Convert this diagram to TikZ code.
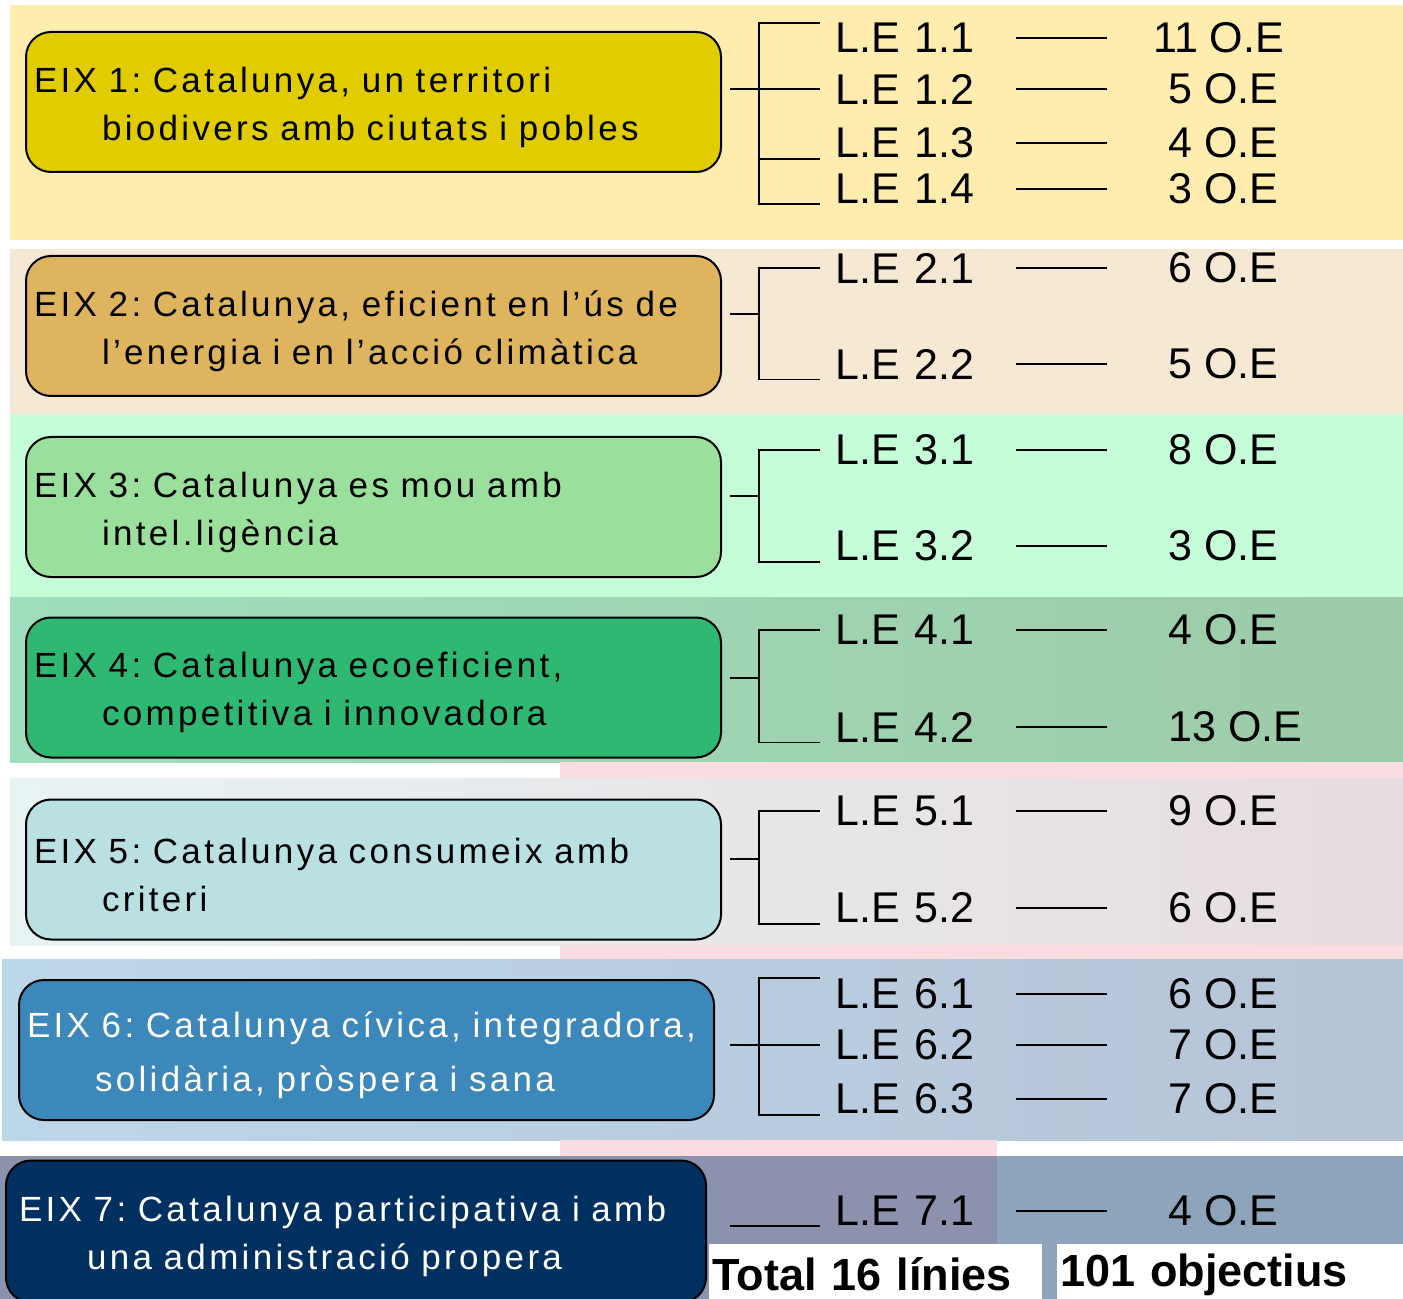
\documentclass[tikz,border=0pt]{standalone}
\usepackage{fontspec}
\setmainfont{Liberation Sans}
\newfontfamily\eixfont[LetterSpace=9.5]{Liberation Sans}
\usepackage{xcolor}
\usepackage{tikz}
\definecolor{bandone}{HTML}{FFECAF}
\definecolor{bandtwo}{HTML}{F5E9D4}
\definecolor{bandthree}{HTML}{C6FDD9}
\definecolor{bandfourL}{HTML}{9FDFBE}
\definecolor{bandfourR}{HTML}{9DCAA8}
\definecolor{bandfiveL}{HTML}{E8F3F4}
\definecolor{bandfiveR}{HTML}{E7DCE0}
\definecolor{bandsixL}{HTML}{BCD7E9}
\definecolor{bandsixR}{HTML}{B7C3D7}
\definecolor{bandsevenL}{HTML}{8C92AE}
\definecolor{bandsevenR}{HTML}{8EA4BB}
\definecolor{fillone}{HTML}{E1CC00}
\definecolor{filltwo}{HTML}{DEB55E}
\definecolor{fillthree}{HTML}{9AE09C}
\definecolor{fillfour}{HTML}{2EB872}
\definecolor{fillfive}{HTML}{BAE0E2}
\definecolor{fillsix}{HTML}{3C88BA}
\definecolor{fillseven}{HTML}{003060}
\definecolor{pinkgap}{HTML}{F9DDE0}
\frenchspacing
\tikzset{
    every node/.style={font=\fontsize{21.5}{26}\selectfont},
    eixbox/.style={draw, rounded corners=12.5pt, line width=1pt, anchor=west,
        text width=339.5pt, inner xsep=4pt, minimum height=70pt, align=left,
        execute at begin node={\rule{0pt}{18pt}},
        font=\eixfont\fontsize{17.5}{24}\selectfont},
    lebox/.style={anchor=west, inner xsep=7.5pt, inner ysep=0pt, text width=82.5pt, align=left},
    oebox/.style={anchor=west, inner sep=0pt},
    totalbox/.style={fill=white, anchor=north west, inner xsep=1.5pt, minimum height=30pt,
        align=left, font=\bfseries\fontsize{22.5}{27}\selectfont},
    branch/.style={line width=0.9pt}
}

\begin{document}
\begin{tikzpicture}[x=0.5pt, y=-0.5pt]
    \useasboundingbox (0,0) rectangle (1403,1299);

    % bands
    \fill[bandone] (10,5) rectangle (1403,240);
    \fill[bandtwo] (10,249) rectangle (1403,414);
    \fill[bandthree] (10,414) rectangle (1403,597);
    \shade[left color=bandfourL, right color=bandfourR] (10,597) rectangle (1403,762);
    \fill[pinkgap] (560,762) rectangle (1403,778);
    \shade[left color=bandfiveL, right color=bandfiveR] (10,778) rectangle (1403,945);
    \fill[pinkgap] (560,945) rectangle (1403,959);
    \shade[left color=bandsixL, right color=bandsixR] (2,959) rectangle (1403,1140);
    \fill[pinkgap] (560,1140) rectangle (997,1156);
    \fill[bandsevenL] (0,1156) rectangle (997,1299);
    \fill[bandsevenR] (997,1156) rectangle (1403,1299);

    % eixos
    \node[eixbox, fill=fillone] (eix1) at (25,102) {EIX 1: Catalunya, un territori\\\hspace*{34pt}biodivers amb ciutats i pobles};
    \node[eixbox, fill=filltwo] (eix2) at (25,326) {EIX 2: Catalunya, eficient en l’ús de\\\hspace*{34pt}l’energia i en l’acció climàtica};
    \node[eixbox, fill=fillthree] (eix3) at (25,507) {EIX 3: Catalunya es mou amb\\\hspace*{34pt}intel.ligència};
    \node[eixbox, fill=fillfour] (eix4) at (25,687.5) {EIX 4: Catalunya ecoeficient,\\\hspace*{34pt}competitiva i innovadora};
    \node[eixbox, fill=fillfive] (eix5) at (25,869.5) {EIX 5: Catalunya consumeix amb\\\hspace*{34pt}criteri};
    \node[eixbox, fill=fillsix, text=white, font=\eixfont\fontsize{17.5}{27}\selectfont] (eix6) at (18,1050) {EIX 6: Catalunya cívica, integradora,\\\hspace*{34pt}solidària, pròspera i sana};
    \node[eixbox, fill=fillseven, text=white, inner xsep=6.5pt, text width=337pt, minimum height=71pt] (eix7) at (5,1231.5) {EIX 7: Catalunya participativa i amb\\\hspace*{34pt}una administració propera};

    % linies estrategiques
    \node[lebox] (le11) at (820,38) {L.E 1.1};
    \node[lebox] (le12) at (820,89) {L.E 1.2};
    \node[lebox] (le13) at (820,143) {L.E 1.3};
    \node[lebox] (le14) at (820,189) {L.E 1.4};
    \node[lebox] (le21) at (820,268) {L.E 2.1};
    \node[lebox] (le22) at (820,364) {L.E 2.2};
    \node[lebox] (le31) at (820,450) {L.E 3.1};
    \node[lebox] (le32) at (820,546) {L.E 3.2};
    \node[lebox] (le41) at (820,630) {L.E 4.1};
    \node[lebox] (le42) at (820,727) {L.E 4.2};
    \node[lebox] (le51) at (820,811) {L.E 5.1};
    \node[lebox] (le52) at (820,908) {L.E 5.2};
    \node[lebox] (le61) at (820,994) {L.E 6.1};
    \node[lebox] (le62) at (820,1045) {L.E 6.2};
    \node[lebox] (le63) at (820,1099) {L.E 6.3};
    \node[lebox] (le71) at (820,1211) {L.E 7.1};

    % objectius
    \node[oebox] (oe11) at (1153,38) {11 O.E};
    \node[oebox] (oe12) at (1168,89) {5 O.E};
    \node[oebox] (oe13) at (1168,143) {4 O.E};
    \node[oebox] (oe14) at (1168,189) {3 O.E};
    \node[oebox] (oe21) at (1168,268) {6 O.E};
    \node[oebox] (oe22) at (1168,364) {5 O.E};
    \node[oebox] (oe31) at (1168,450) {8 O.E};
    \node[oebox] (oe32) at (1168,546) {3 O.E};
    \node[oebox] (oe41) at (1168,630) {4 O.E};
    \node[oebox] (oe42) at (1168,727) {13 O.E};
    \node[oebox] (oe51) at (1168,811) {9 O.E};
    \node[oebox] (oe52) at (1168,908) {6 O.E};
    \node[oebox] (oe61) at (1168,994) {6 O.E};
    \node[oebox] (oe62) at (1168,1045) {7 O.E};
    \node[oebox] (oe63) at (1168,1099) {7 O.E};
    \node[oebox] (oe71) at (1168,1211) {4 O.E};

    % totals
    \node[totalbox, text width=163.5pt] (total) at (709,1244) {Total 16 línies};
    \node[totalbox, text width=170pt] (obj) at (1057,1244) {101 objectius};

    % brackets
    \coordinate (j1) at (759,89);
    \coordinate (j2) at (759,314);
    \coordinate (j3) at (759,496);
    \coordinate (j4) at (759,678);
    \coordinate (j5) at (759,859);
    \coordinate (j6) at (759,1045);
    \draw[branch, shorten <=4pt] (eix1.east |- j1) -- (le12.west);
    \draw[branch] (le11.north west) -| (j1) |- (le14.south west);
    \draw[branch] (j1) |- (le13.south west);
    \draw[branch, shorten <=4pt] (eix2.east |- j2) -- (j2);
    \draw[branch] (le21.west) -| (j2) |- (le22.south west);
    \draw[branch, shorten <=4pt] (eix3.east |- j3) -- (j3);
    \draw[branch] (le31.west) -| (j3) |- (le32.south west);
    \draw[branch, shorten <=4pt] (eix4.east |- j4) -- (j4);
    \draw[branch] (le41.west) -| (j4) |- (le42.south west);
    \draw[branch, shorten <=4pt] (eix5.east |- j5) -- (j5);
    \draw[branch] (le51.west) -| (j5) |- (le52.south west);
    \draw[branch, shorten <=7.5pt] (eix6.east |- j6) -- (le62.west);
    \draw[branch] (le61.north west) -| (j6) |- (le63.south west);
    \draw[branch, shorten <=11.5pt] (eix7.east |- le71.south west) -- (le71.south west);

    % dashes
    \draw[branch, shorten >=23pt] (le11.east) -- (oe11.west);
    \draw[branch, shorten >=30.5pt] (le12.east) -- (oe12.west);
    \draw[branch, shorten >=30.5pt] (le13.east) -- (oe13.west);
    \draw[branch, shorten >=30.5pt] (le14.east) -- (oe14.west);
    \draw[branch, shorten >=30.5pt] (le21.east) -- (oe21.west);
    \draw[branch, shorten >=30.5pt] (le22.east) -- (oe22.west);
    \draw[branch, shorten >=30.5pt] (le31.east) -- (oe31.west);
    \draw[branch, shorten >=30.5pt] (le32.east) -- (oe32.west);
    \draw[branch, shorten >=30.5pt] (le41.east) -- (oe41.west);
    \draw[branch, shorten >=30.5pt] (le42.east) -- (oe42.west);
    \draw[branch, shorten >=30.5pt] (le51.east) -- (oe51.west);
    \draw[branch, shorten >=30.5pt] (le52.east) -- (oe52.west);
    \draw[branch, shorten >=30.5pt] (le61.east) -- (oe61.west);
    \draw[branch, shorten >=30.5pt] (le62.east) -- (oe62.west);
    \draw[branch, shorten >=30.5pt] (le63.east) -- (oe63.west);
    \draw[branch, shorten >=30.5pt] (le71.east) -- (oe71.west);
\end{tikzpicture}
\end{document}
